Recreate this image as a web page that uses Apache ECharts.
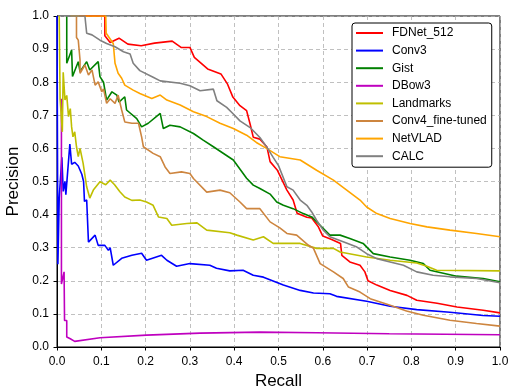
<!DOCTYPE html>
<html>
<head>
<meta charset="utf-8">
<script src="https://cdn.jsdelivr.net/npm/echarts@6/dist/echarts.min.js"></script>
<style>html,body{margin:0;padding:0;background:#fff;}#c{width:509px;height:387px;}</style>
</head>
<body>
<div id="c"></div>
<script>
var seriesNames = ['FDNet_512','Conv3','Gist','DBow3','Landmarks','Conv4_fine-tuned','NetVLAD','CALC'];
var seriesColors = ['#ff0000','#0000ff','#008000','#bf00bf','#bfbf00','#cd853f','#ffa500','#808080'];
var xTicks = [0,0.1,0.2,0.3,0.4,0.5,0.6,0.7,0.8,0.9,1.0];
var yTicks = [0,0.1,0.2,0.3,0.4,0.5,0.6,0.7,0.8,0.9,1.0];

var fdnet = [[0.05,1.0],[0.108,1.0],[0.108,0.94],[0.12,0.92],[0.14,0.933],[0.16,0.915],[0.19,0.91],[0.22,0.918],[0.26,0.924],[0.28,0.905],[0.30,0.905],[0.31,0.875],[0.34,0.84],[0.37,0.825],[0.385,0.794],[0.397,0.755],[0.413,0.729],[0.428,0.714],[0.436,0.673],[0.443,0.634],[0.458,0.628],[0.474,0.604],[0.481,0.56],[0.497,0.535],[0.519,0.474],[0.533,0.444],[0.542,0.404],[0.564,0.392],[0.575,0.39],[0.59,0.363],[0.60,0.335],[0.62,0.325],[0.64,0.313],[0.643,0.277],[0.661,0.257],[0.684,0.247],[0.695,0.227],[0.702,0.20],[0.722,0.187],[0.752,0.171],[0.79,0.156],[0.812,0.141],[0.858,0.132],[0.903,0.121],[0.962,0.111],[1.0,0.103]];
var conv3 = [[0.0,1.0],[0.002,0.25],[0.005,0.45],[0.011,0.573],[0.014,0.47],[0.018,0.50],[0.02,0.46],[0.029,0.613],[0.033,0.552],[0.04,0.558],[0.048,0.547],[0.056,0.522],[0.06,0.50],[0.062,0.44],[0.067,0.444],[0.071,0.317],[0.086,0.338],[0.093,0.307],[0.108,0.307],[0.116,0.292],[0.12,0.30],[0.127,0.247],[0.146,0.268],[0.169,0.277],[0.191,0.283],[0.202,0.262],[0.236,0.277],[0.248,0.262],[0.27,0.244],[0.30,0.252],[0.345,0.247],[0.36,0.238],[0.39,0.23],[0.42,0.232],[0.443,0.217],[0.466,0.211],[0.511,0.187],[0.549,0.171],[0.579,0.163],[0.616,0.161],[0.631,0.153],[0.699,0.138],[0.752,0.123],[0.812,0.113],[0.887,0.105],[0.962,0.095],[1.0,0.093]];
var gist = [[0.022,1.0],[0.022,0.857],[0.033,0.897],[0.035,0.817],[0.048,0.862],[0.052,0.832],[0.067,0.862],[0.074,0.837],[0.093,0.862],[0.097,0.817],[0.105,0.80],[0.112,0.746],[0.124,0.771],[0.135,0.761],[0.14,0.74],[0.153,0.756],[0.157,0.716],[0.18,0.69],[0.191,0.665],[0.206,0.676],[0.233,0.706],[0.24,0.66],[0.255,0.67],[0.278,0.665],[0.308,0.645],[0.33,0.625],[0.353,0.605],[0.398,0.565],[0.428,0.51],[0.443,0.489],[0.458,0.479],[0.481,0.462],[0.496,0.438],[0.511,0.428],[0.533,0.418],[0.556,0.403],[0.575,0.393],[0.59,0.373],[0.616,0.338],[0.639,0.338],[0.661,0.328],[0.691,0.313],[0.714,0.282],[0.752,0.272],[0.797,0.262],[0.827,0.252],[0.842,0.232],[0.902,0.214],[0.962,0.207],[1.0,0.197]];
var dbow3 = [[0.01,0.75],[0.01,0.19],[0.016,0.227],[0.017,0.08],[0.022,0.08],[0.022,0.03],[0.03,0.025],[0.04,0.017],[0.097,0.028],[0.202,0.036],[0.323,0.042],[0.458,0.045],[0.586,0.043],[0.75,0.04],[1.0,0.037]];
var landmarks = [[0.005,1.0],[0.007,0.75],[0.012,0.65],[0.014,0.83],[0.018,0.746],[0.022,0.76],[0.026,0.696],[0.03,0.72],[0.033,0.665],[0.036,0.635],[0.04,0.65],[0.044,0.605],[0.048,0.575],[0.052,0.60],[0.059,0.555],[0.062,0.56],[0.067,0.484],[0.074,0.45],[0.082,0.474],[0.097,0.499],[0.11,0.49],[0.12,0.504],[0.13,0.49],[0.142,0.469],[0.153,0.453],[0.169,0.443],[0.187,0.444],[0.202,0.438],[0.217,0.428],[0.229,0.393],[0.248,0.388],[0.259,0.368],[0.293,0.373],[0.316,0.375],[0.338,0.353],[0.39,0.345],[0.406,0.338],[0.443,0.323],[0.466,0.333],[0.488,0.313],[0.549,0.313],[0.586,0.298],[0.624,0.298],[0.639,0.287],[0.699,0.272],[0.752,0.262],[0.812,0.254],[0.835,0.244],[0.857,0.232],[1.0,0.23]];
var conv4ft = [[0.044,1.0],[0.044,0.935],[0.048,0.927],[0.052,0.867],[0.052,0.827],[0.063,0.852],[0.071,0.822],[0.079,0.837],[0.086,0.791],[0.093,0.801],[0.101,0.771],[0.105,0.78],[0.112,0.736],[0.12,0.75],[0.131,0.736],[0.138,0.761],[0.146,0.716],[0.153,0.68],[0.169,0.676],[0.184,0.676],[0.191,0.635],[0.195,0.605],[0.217,0.585],[0.233,0.575],[0.244,0.544],[0.255,0.524],[0.281,0.529],[0.30,0.524],[0.308,0.509],[0.338,0.468],[0.368,0.474],[0.39,0.466],[0.413,0.438],[0.428,0.418],[0.458,0.418],[0.481,0.378],[0.503,0.36],[0.519,0.343],[0.541,0.338],[0.567,0.308],[0.579,0.298],[0.594,0.252],[0.624,0.227],[0.646,0.207],[0.658,0.181],[0.684,0.166],[0.707,0.146],[0.752,0.126],[0.789,0.109],[0.827,0.096],[0.887,0.081],[0.947,0.071],[1.0,0.063]];
var netvlad = [[0.03,1.0],[0.11,1.0],[0.111,0.948],[0.127,0.917],[0.131,0.857],[0.138,0.827],[0.146,0.812],[0.153,0.791],[0.172,0.776],[0.187,0.766],[0.214,0.751],[0.233,0.761],[0.248,0.746],[0.278,0.731],[0.308,0.711],[0.338,0.696],[0.368,0.676],[0.398,0.66],[0.428,0.64],[0.45,0.618],[0.473,0.60],[0.503,0.575],[0.549,0.565],[0.586,0.534],[0.624,0.504],[0.654,0.474],[0.684,0.444],[0.699,0.423],[0.722,0.403],[0.752,0.388],[0.797,0.373],[0.835,0.363],[0.887,0.353],[0.947,0.343],[1.0,0.333]];
var calc = [[0.02,1.0],[0.063,1.0],[0.067,0.948],[0.079,0.943],[0.097,0.927],[0.112,0.917],[0.131,0.907],[0.15,0.892],[0.165,0.885],[0.172,0.857],[0.187,0.835],[0.217,0.815],[0.233,0.804],[0.278,0.797],[0.30,0.789],[0.323,0.774],[0.353,0.779],[0.361,0.744],[0.383,0.724],[0.398,0.704],[0.413,0.683],[0.436,0.663],[0.458,0.633],[0.474,0.603],[0.488,0.573],[0.50,0.548],[0.519,0.484],[0.533,0.474],[0.549,0.444],[0.564,0.428],[0.575,0.408],[0.586,0.383],[0.601,0.353],[0.616,0.333],[0.646,0.318],[0.677,0.302],[0.699,0.282],[0.722,0.267],[0.752,0.257],[0.782,0.247],[0.812,0.227],[0.849,0.217],[0.887,0.212],[0.947,0.207],[1.0,0.194]];

var allData = [fdnet, conv3, gist, dbow3, landmarks, conv4ft, netvlad, calc];
var FONT = 'Liberation Sans, Arial, sans-serif';

var chart = echarts.init(document.getElementById('c'), null, {renderer: 'canvas'});
var series = seriesNames.map(function (n, i) {
  return {
    name: n, type: 'line', data: allData[i], symbol: 'none', showSymbol: false,
    lineStyle: {color: seriesColors[i], width: 1.6}, itemStyle: {color: seriesColors[i]},
    clip: true, animation: false, z: 2 + i
  };
});
function axisCommon(name, gap, labelMargin) {
  return {
    type: 'value', min: 0, max: 1, interval: 0.1,
    name: name, nameLocation: 'middle', nameGap: gap,
    nameTextStyle: {fontFamily: FONT, fontSize: 17, color: '#000'},
    axisLine: {show: true, onZero: false, lineStyle: {color: '#000', width: 1}},
    axisTick: {show: true, length: 3.5, inside: false, lineStyle: {color: '#000'}},
    axisLabel: {fontFamily: FONT, fontSize: 12, color: '#000', margin: labelMargin,
      formatter: function (v) { return v.toFixed(1); }},
    splitLine: {show: true, lineStyle: {color: '#b0b0b0', type: [4, 3], width: 0.8}}
  };
}
chart.setOption({
  backgroundColor: '#fff',
  animation: false,
  grid: {left: 57, right: 9, top: 16, bottom: 40, containLabel: false, outerBoundsMode: 'none',
    show: true, borderColor: '#000', borderWidth: 1, backgroundColor: 'transparent'},
  xAxis: axisCommon('Recall', 21, 9),
  yAxis: axisCommon('Precision', 29, 8),
  legend: {
    orient: 'vertical', left: 352, top: 23,
    data: seriesNames.map(function (n, i) { return {name: n, icon: 'rect', itemStyle: {color: seriesColors[i]}}; }),
    itemWidth: 27, itemHeight: 2, itemGap: 3.6,
    textStyle: {fontFamily: FONT, fontSize: 12, color: '#000', lineHeight: 14, padding: [0, 0, 0, 4]},
    backgroundColor: '#fff', borderColor: '#000', borderWidth: 1, borderRadius: 3,
    padding: [3, 5, 4, 4], selectedMode: false, z: 10
  },
  series: series
});
</script>
</body>
</html>
